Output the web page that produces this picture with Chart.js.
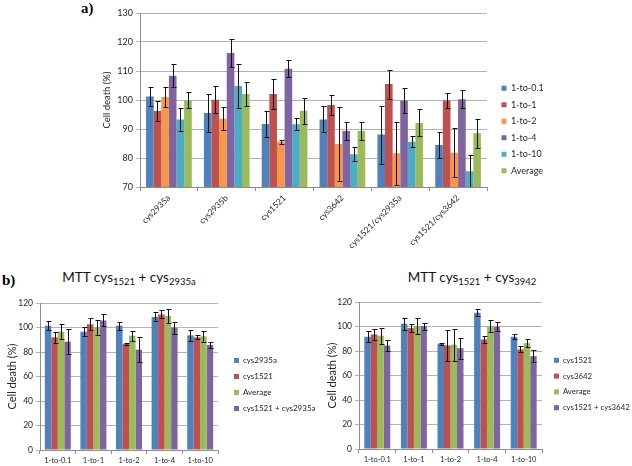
<!DOCTYPE html>
<html><head><meta charset="utf-8">
<script src="https://cdn.jsdelivr.net/npm/chart.js@4.4.1/dist/chart.umd.min.js"></script>
<style>
html,body{margin:0;padding:0;background:#fff;}
body{width:632px;height:466px;position:relative;overflow:hidden;font-family:Lato,'Open Sans',sans-serif;}
canvas{position:absolute;}
.lbl{position:absolute;font-family:'Liberation Serif','Times New Roman',serif;font-weight:bold;font-size:15px;color:#000;line-height:1;}
.ttl{position:absolute;text-align:center;font-size:13.5px;font-weight:400;color:#111;white-space:nowrap;line-height:1;font-family:Lato,'Open Sans',sans-serif;}
.ttl sub{font-size:9.5px;vertical-align:-3px;line-height:1;}
</style></head><body>
<canvas id="ca" width="632" height="256" style="left:0;top:0"></canvas>
<canvas id="cb1" width="340" height="176" style="left:0;top:290px"></canvas>
<canvas id="cb2" width="311" height="176" style="left:321px;top:290px"></canvas>
<div class="lbl" style="left:81px;top:1px">a)</div>
<div class="lbl" style="left:2px;top:273px">b)</div>
<div class="ttl" style="left:0;width:258px;top:271px">MTT cys<sub>1521</sub> + cys<sub>2935a</sub></div>
<div class="ttl" style="left:372px;width:200px;top:271px">MTT cys<sub>1521</sub> + cys<sub>3942</sub></div>
<script>
// ---------- Data: panel a ----------
const catsA = ['cys2935a', 'cys2935b', 'cys1521', 'cys3642', 'cys1521/cys2935a', 'cys1521/cys3642'];
const namesA = ['1-to-0.1', '1-to-1', '1-to-2', '1-to-4', '1-to-10', 'Average'];
const a_r01     = [101.2, 95.5, 91.7, 93.3, 88.1, 84.5];
const a_r01_err = [3.3, 6.7, 4.5, 4.5, 10.0, 4.6];
const a_r1      = [96.2, 100.1, 102.1, 98.3, 105.5, 99.8];
const a_r1_err  = [3.6, 4.7, 5.1, 3.4, 5.0, 2.7];
const a_r2      = [101.0, 93.5, 85.6, 84.8, 81.6, 81.8];
const a_r2_err  = [3.5, 4.0, 0.7, 12.8, 10.9, 8.5];
const a_r4      = [108.4, 116.2, 110.8, 89.3, 99.8, 100.3];
const a_r4_err  = [4.0, 4.9, 2.85, 3.1, 4.4, 3.1];
const a_r10     = [93.3, 104.8, 91.6, 81.3, 85.6, 75.4];
const a_r10_err = [3.85, 7.5, 2.1, 2.4, 1.95, 5.6];
const a_avg     = [100.0, 102.1, 96.3, 89.3, 92.1, 88.5];
const a_avg_err = [2.7, 4.05, 4.5, 3.15, 4.65, 4.95];
const yTicksA = {min: 70, max: 130, step: 10};

// ---------- Data: panel b (left) ----------
const catsB = ['1-to-0.1', '1-to-1', '1-to-2', '1-to-4', '1-to-10'];
const namesB1 = ['cys2935a', 'cys1521', 'Average', 'cys1521 + cys2935a'];
const b1_2935a     = [101.5, 96.6, 101.5, 108.6, 93.6];
const b1_2935a_err = [3.65, 3.8, 3.3, 3.65, 4.25];
const b1_1521      = [92.0, 102.6, 86.6, 110.7, 92.0];
const b1_1521_err  = [4.6, 4.9, 1.1, 3.25, 1.65];
const b1_avg       = [96.6, 99.9, 93.3, 109.4, 92.8];
const b1_avg_err   = [6.0, 5.95, 4.1, 5.85, 4.75];
const b1_combo     = [88.4, 105.8, 81.9, 99.9, 85.7];
const b1_combo_err = [10.2, 4.9, 10.45, 4.9, 2.2];

// ---------- Data: panel b (right) ----------
const namesB2 = ['cys1521', 'cys3642', 'Average', 'cys1521 + cys3642'];
const b2_1521      = [91.6, 102.3, 85.9, 111.3, 91.6];
const b2_1521_err  = [4.5, 4.8, 0.65, 2.75, 2.05];
const b2_3642      = [93.5, 98.7, 84.5, 89.4, 81.3];
const b2_3642_err  = [4.65, 3.4, 13.0, 3.15, 2.5];
const b2_avg       = [92.5, 100.3, 85.1, 100.3, 86.4];
const b2_avg_err   = [6.55, 6.4, 12.95, 4.8, 3.25];
const b2_combo     = [84.5, 100.3, 82.3, 99.8, 75.8];
const b2_combo_err = [4.75, 2.75, 8.45, 3.8, 5.0];
const yTicksB = {min: 0, max: 120, step: 20};

// ---------- Styles ----------
const C = {blue:'#4F81BD', red:'#C0504D', orange:'#F79646', purple:'#8064A2', teal:'#4BACC6', green:'#9BBB59'};
const FONT = "Lato, 'Open Sans', sans-serif";
const GRID = '#B3B3B3', AXIS = '#8C8C8C', TXT = '#262626';

const errorBars = {
  id: 'errorBars',
  afterDatasetsDraw(chart) {
    const {ctx, chartArea, scales: {y}} = chart;
    ctx.save();
    ctx.beginPath();
    ctx.rect(chartArea.left, chartArea.top - 1, chartArea.width, chartArea.height + 1);
    ctx.clip();
    ctx.strokeStyle = '#111';
    ctx.lineWidth = 1;
    chart.data.datasets.forEach((ds, i) => {
      const meta = chart.getDatasetMeta(i);
      if (!ds.err || meta.hidden) return;
      meta.data.forEach((bar, j) => {
        const v = ds.data[j], e = ds.err[j];
        const x = Math.round(bar.x) + 0.5;
        const yt = Math.round(y.getPixelForValue(v + e)) + 0.5;
        const yb = Math.round(y.getPixelForValue(v - e)) + 0.5;
        ctx.beginPath();
        ctx.moveTo(x, yt); ctx.lineTo(x, yb);
        ctx.moveTo(x - 2, yt); ctx.lineTo(x + 3, yt);
        ctx.moveTo(x - 2, yb); ctx.lineTo(x + 3, yb);
        ctx.stroke();
      });
    });
    ctx.restore();
  }
};
// nudges the legend block (position only) and widens its clip box to the canvas edge
const legendShift = {
  id: 'legendShift',
  afterLayout(chart, args, opts) {
    const lg = chart.legend;
    if (!lg || !opts) return;
    lg.left += opts.dx || 0;
    lg.right = chart.width;
    lg.width = lg.right - lg.left;
    if (opts.bottom !== undefined) {
      lg.bottom = opts.bottom;
      lg.height = lg.bottom - lg.top;
    }
  }
};

function ds(label, data, err, color) {
  return {label, data, err, backgroundColor: color, borderWidth: 0, barPercentage: 1};
}

function build(id, cfg) {
  return new Chart(document.getElementById(id), {
    type: 'bar',
    data: {labels: cfg.labels, datasets: cfg.datasets},
    plugins: [errorBars, legendShift],
    options: {
      responsive: false,
      animation: false,
      devicePixelRatio: 1,
      datasets: {bar: {categoryPercentage: cfg.catPct}},
      layout: {padding: cfg.padding},
      plugins: {
        legend: {
          position: 'right',
          align: 'center',
          maxWidth: cfg.legendMax,
          labels: {boxWidth: cfg.box, boxHeight: cfg.box, padding: cfg.legPad, color: TXT,
                   font: {family: FONT, size: cfg.legFont}}
        },
        legendShift: {dx: cfg.legDx, bottom: cfg.legBottom},
        tooltip: {enabled: false},
        title: {display: false}
      },
      scales: {
        x: {
          grid: {display: true, drawOnChartArea: false, drawTicks: true, tickLength: 4, color: AXIS, offset: true},
          border: {display: true, color: AXIS},
          ticks: {color: TXT, font: {family: FONT, size: cfg.xFont}, autoSkip: false,
                  minRotation: cfg.rot, maxRotation: cfg.rot, padding: 2},
          afterFit: (s) => { s.height = cfg.xH; }
        },
        y: {
          min: cfg.yt.min, max: cfg.yt.max,
          grid: {color: GRID, tickLength: 4, drawTicks: true},
          border: {display: true, color: AXIS},
          ticks: {stepSize: cfg.yt.step, color: TXT, font: {family: FONT, size: cfg.yFont}, padding: 3},
          title: {display: true, text: 'Cell death (%)', color: TXT, font: {family: FONT, size: cfg.tFont}, padding: 2},
          afterFit: (s) => { s.width = cfg.yW; }
        }
      }
    }
  });
}

build('ca', {
  labels: catsA,
  datasets: [
    ds(namesA[0], a_r01, a_r01_err, C.blue),
    ds(namesA[1], a_r1, a_r1_err, C.red),
    ds(namesA[2], a_r2, a_r2_err, C.orange),
    ds(namesA[3], a_r4, a_r4_err, C.purple),
    ds(namesA[4], a_r10, a_r10_err, C.teal),
    ds(namesA[5], a_avg, a_avg_err, C.green)
  ],
  catPct: 0.79, padding: {left: 99, top: 13, right: 95, bottom: 0},
  legendMax: 50, box: 5, legPad: 7.5, legFont: 9, legDx: 7, legBottom: 246,
  xFont: 8.5, yFont: 9, tFont: 9.5, rot: 45, xH: 69, yW: 41, yt: yTicksA
});

build('cb1', {
  labels: catsB,
  datasets: [
    ds(namesB1[0], b1_2935a, b1_2935a_err, C.blue),
    ds(namesB1[1], b1_1521, b1_1521_err, C.red),
    ds(namesB1[2], b1_avg, b1_avg_err, C.green),
    ds(namesB1[3], b1_combo, b1_combo_err, C.purple)
  ],
  catPct: 0.73, padding: {left: 4, top: 13, right: 62, bottom: 0},
  legendMax: 60, box: 5, legPad: 8, legFont: 8, legDx: 8,
  xFont: 7.5, yFont: 8.5, tFont: 11, rot: 0, xH: 16, yW: 36, yt: yTicksB
});

build('cb2', {
  labels: catsB,
  datasets: [
    ds(namesB2[0], b2_1521, b2_1521_err, C.blue),
    ds(namesB2[1], b2_3642, b2_3642_err, C.red),
    ds(namesB2[2], b2_avg, b2_avg_err, C.green),
    ds(namesB2[3], b2_combo, b2_combo_err, C.purple)
  ],
  catPct: 0.71, padding: {left: 3, top: 12, right: 30, bottom: 0},
  legendMax: 60, box: 5, legPad: 8, legFont: 7.8, legDx: 4,
  xFont: 7.5, yFont: 8.5, tFont: 11, rot: 0, xH: 17, yW: 35, yt: yTicksB
});
</script>
</body></html>
